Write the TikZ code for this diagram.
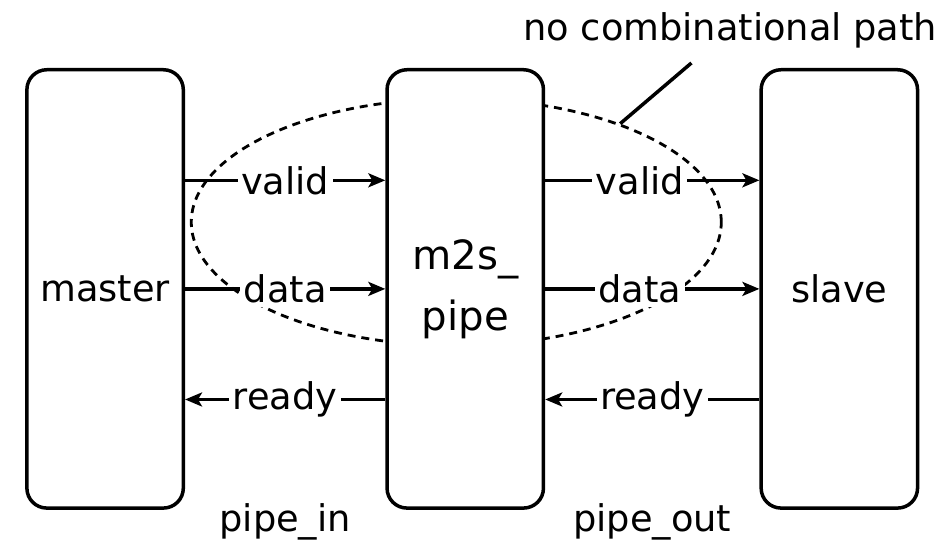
\documentclass[tikz,border=0pt]{standalone}
\usepackage{fontspec}
\setmainfont{DejaVu Sans}
\usetikzlibrary{shapes.geometric, arrows.meta, positioning, calc, backgrounds}

\begin{document}
\begin{tikzpicture}[
    line width=2pt,
    font=\fontsize{21}{25}\selectfont,
    block/.style={rectangle, rounded corners=0.4cm, draw, fill=white, minimum width=3.14cm, minimum height=8.8cm, align=center},
    arrow/.style={-{Stealth[length=0.34cm, width=0.28cm, inset=0.08cm]}},
    sig/.style={midway, fill=white, inner sep=2pt},
    loopline/.style={dash pattern=on 0.16cm off 0.12cm, line width=1.6pt}
]

% Modules
\node [block] (master) {master};
\node [block, right=4.02cm of master, font=\fontsize{23}{35}\selectfont] (pipe) {m2s\_\\pipe};
\node [block, right=4.30cm of pipe] (slave) {slave};

% Loop around the forward signals
\begin{scope}[on background layer]
\node [ellipse, draw, loopline, inner sep=0pt, minimum width=10.64cm, minimum height=4.96cm] (loop) at ([xshift=-0.18cm, yshift=1.34cm]pipe.center) {};
\end{scope}

% pipe_in side
\draw [arrow] ([yshift=2.18cm]master.east) -- node[sig] {valid} ([yshift=2.18cm]pipe.west);
\draw [arrow] (master.east) -- node[sig] {data} (pipe.west);
\draw [arrow] ([yshift=-2.22cm]pipe.west) -- node[sig] {ready} ([yshift=-2.22cm]master.east);

% pipe_out side
\draw [arrow] ([yshift=2.18cm]pipe.east) -- node[sig, xshift=-0.25cm] {valid} ([yshift=2.18cm]slave.west);
\draw [arrow] (pipe.east) -- node[sig, xshift=-0.25cm] {data} (slave.west);
\draw [arrow] ([yshift=-2.22cm]slave.west) -- node[sig] {ready} ([yshift=-2.22cm]pipe.east);

% Interface names
\node (pin) at ([yshift=-0.25cm]$(master.south east)!0.5!(pipe.south west)$) {pipe\_in};
\node (pout) at ([yshift=-0.25cm]$(pipe.south east)!0.5!(slave.south west)$) {pipe\_out};

% Note
\node (note) at ($(slave.north)+(-2.19,0.76)$) {no combinational path};
\draw ([xshift=-0.78cm, yshift=-0.15cm]note.south) -- (loop.31);

\useasboundingbox ($(master.center)+(-2.11,-5.2)$) rectangle ($(master.center)+(16.75,5.8)$);

\end{tikzpicture}
\end{document}
